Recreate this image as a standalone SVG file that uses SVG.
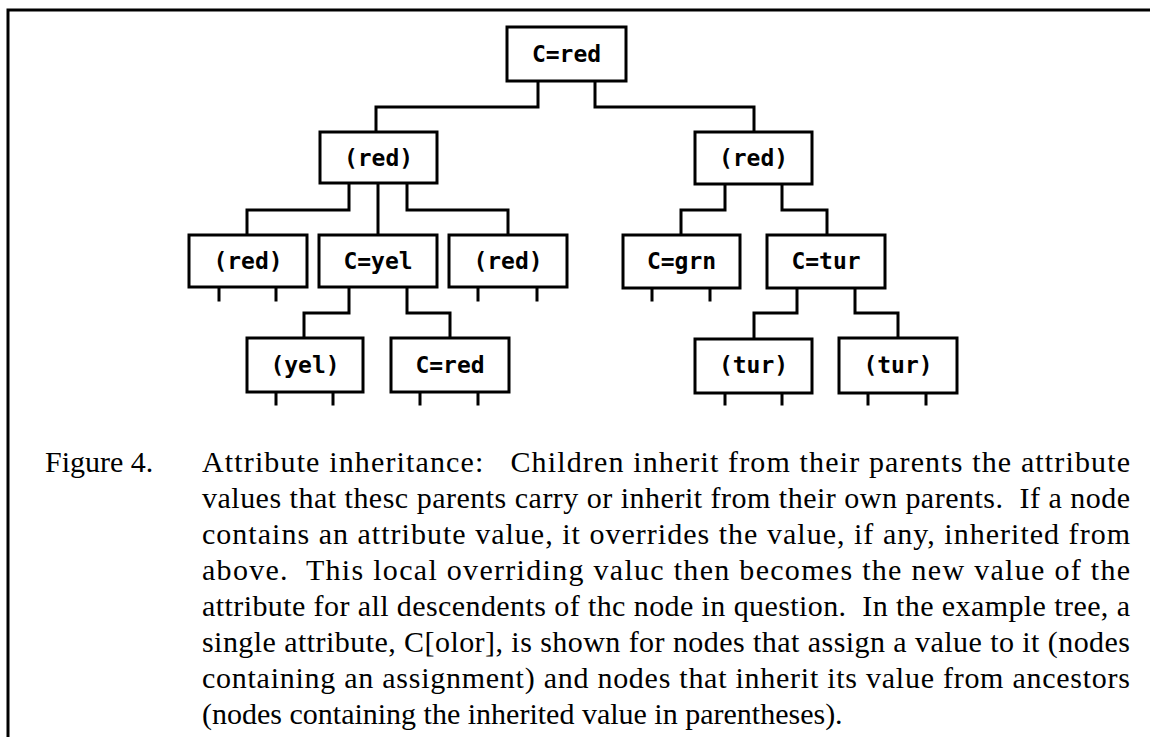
<svg xmlns="http://www.w3.org/2000/svg" width="1150" height="737" viewBox="0 0 1150 737">
<style>
.box{fill:#fff;stroke:#000;stroke-width:3}
.lbl{font-family:"DejaVu Sans Mono","Liberation Mono",monospace;font-size:23px;font-weight:bold;text-anchor:middle;fill:#000}
.con{fill:none;stroke:#000;stroke-width:3;stroke-linejoin:miter;stroke-linecap:square}
.frame{fill:none;stroke:#000;stroke-width:3}
.cap{font-family:"Liberation Serif","Times New Roman",serif;font-size:30px;fill:#000;white-space:pre}
</style>
<rect width="1150" height="737" fill="#fff"/>
<path class="frame" d="M8 737 V10 H1150"/>
<g id="connectors">
<path class="con" d="M538 81 V107 H376 V132"/>
<path class="con" d="M595 81 V107 H754 V132"/>
<path class="con" d="M349 183 V210 H247 V235"/>
<path class="con" d="M378 183 V235"/>
<path class="con" d="M407 183 V210 H508 V235"/>
<path class="con" d="M725 184 V210 H681 V235"/>
<path class="con" d="M782 184 V210 H827 V235"/>
<path class="con" d="M349 287 V313 H304 V338"/>
<path class="con" d="M407 287 V313 H450 V338"/>
<path class="con" d="M797 288 V313 H754 V338"/>
<path class="con" d="M855 288 V313 H898 V338"/>
<g id="stubs">
<path class="con" d="M219 287 V300 M276 287 V300"/>
<path class="con" d="M478 287 V300 M537 287 V300"/>
<path class="con" d="M652 288 V300 M710 288 V300"/>
<path class="con" d="M276 392 V404 M333 392 V404"/>
<path class="con" d="M420 392 V404 M478 392 V404"/>
<path class="con" d="M725 393 V404 M782 393 V404"/>
<path class="con" d="M868 393 V404 M926 393 V404"/>
</g>
</g>
<g id="n-root"><rect class="box" x="507" y="27" width="119" height="54"/><text class="lbl" x="566.5" y="62">C=red</text></g>
<g id="n-l1"><rect class="box" x="320" y="132" width="117" height="51"/><text class="lbl" x="378.5" y="166">(red)</text></g>
<g id="n-r1"><rect class="box" x="695" y="132" width="117" height="52"/><text class="lbl" x="753.5" y="166">(red)</text></g>
<g id="n-l2a"><rect class="box" x="189" y="235" width="118" height="52"/><text class="lbl" x="248" y="269">(red)</text></g>
<g id="n-l2b"><rect class="box" x="319" y="235" width="118" height="52"/><text class="lbl" x="378" y="269">C=yel</text></g>
<g id="n-l2c"><rect class="box" x="449" y="235" width="118" height="52"/><text class="lbl" x="508" y="269">(red)</text></g>
<g id="n-r2a"><rect class="box" x="623" y="235" width="117" height="53"/><text class="lbl" x="681.5" y="269">C=grn</text></g>
<g id="n-r2b"><rect class="box" x="767" y="235" width="118" height="53"/><text class="lbl" x="826" y="269">C=tur</text></g>
<g id="n-l3a"><rect class="box" x="247" y="338" width="116" height="54"/><text class="lbl" x="305" y="373">(yel)</text></g>
<g id="n-l3b"><rect class="box" x="391" y="338" width="118" height="54"/><text class="lbl" x="450" y="373">C=red</text></g>
<g id="n-r3a"><rect class="box" x="695" y="339" width="117" height="54"/><text class="lbl" x="753.5" y="373">(tur)</text></g>
<g id="n-r3b"><rect class="box" x="839" y="338" width="118" height="55"/><text class="lbl" x="898" y="373">(tur)</text></g>
<g id="caption">
<text class="cap" x="45" y="472">Figure 4.</text>
<text class="cap" x="202" y="472" textLength="928" lengthAdjust="spacing" xml:space="preserve">Attribute inheritance:   Children inherit from their parents the attribute</text>
<text class="cap" x="202" y="508" textLength="928" lengthAdjust="spacing" xml:space="preserve">values that thesc parents carry or inherit from their own parents.  If a node</text>
<text class="cap" x="202" y="544" textLength="928" lengthAdjust="spacing">contains an attribute value, it overrides the value, if any, inherited from</text>
<text class="cap" x="202" y="580" textLength="928" lengthAdjust="spacing" xml:space="preserve">above.  This local overriding valuc then becomes the new value of the</text>
<text class="cap" x="202" y="616" textLength="928" lengthAdjust="spacing" xml:space="preserve">attribute for all descendents of thc node in question.  In the example tree, a</text>
<text class="cap" x="202" y="652" textLength="928" lengthAdjust="spacing">single attribute, C[olor], is shown for nodes that assign a value to it (nodes</text>
<text class="cap" x="202" y="688" textLength="928" lengthAdjust="spacing">containing an assignment) and nodes that inherit its value from ancestors</text>
<text class="cap" x="202" y="724">(nodes containing the inherited value in parentheses).</text>
</g>
</svg>
